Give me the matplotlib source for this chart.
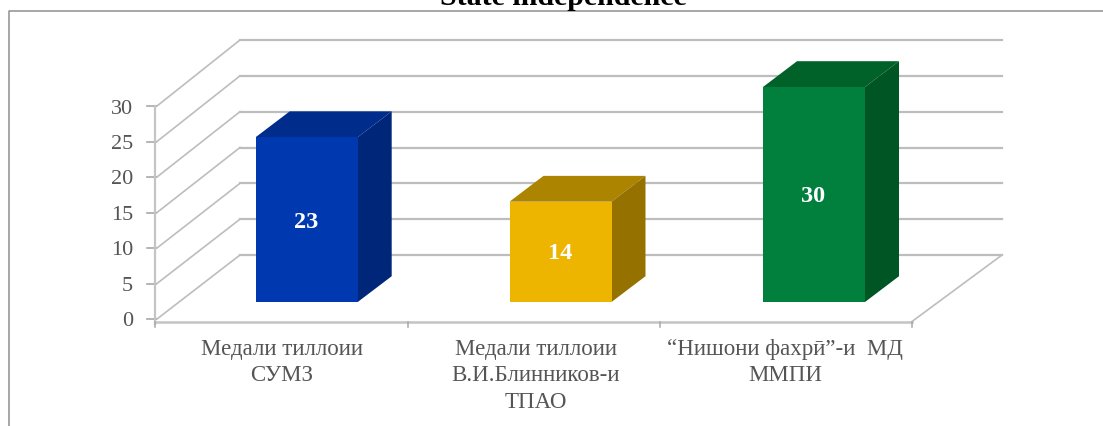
import matplotlib
matplotlib.use("Agg")
import matplotlib.pyplot as plt
from matplotlib.patches import Polygon, Rectangle

categories = ["Медали тиллоии\nСУМЗ", "Медали тиллоии\nВ.И.Блинников-и\nТПАО", "“Нишони фахрӣ”-и  МД\nММПИ"]
values = [23, 14, 30]
front_colors = ["#0038B0", "#EEB500", "#00803C"]
top_colors = ["#002C8C", "#AD8400", "#006228"]
side_colors = ["#00267A", "#957200", "#005524"]
y_ticks = [0, 5, 10, 15, 20, 25, 30]
title = "State independence"

W, H = 1103, 427
plt.rcParams["font.family"] = ["Liberation Serif", "DejaVu Serif"]
fig = plt.figure(figsize=(W / 100, H / 100), dpi=100, facecolor="white")
ax = fig.add_axes([0, 0, 1, 1])
ax.set_xlim(0, W)
ax.set_ylim(H, 0)
ax.axis("off")

# frame: top and left edges only are visible
ax.plot([8.5, 8.5, W], [H, 12, 12], color="#8f8f8f", lw=1.1, zorder=1)
ax.text(563, 5, title, ha="center", va="baseline", fontsize=21.5, fontweight="bold", color="black", clip_on=False)

# projection
x0, y0 = 157, 320
unit = (320 - 107) / 30
back_x = 240
back_y0 = 256
back_unit = (256 - 41) / 30
x_end = 1002
x_floor = 912
floor_y = 322.5
grid = "#bdbdbd"
for t in y_ticks:
    y = y0 - t * unit
    by = back_y0 - t * back_unit
    ax.plot([x0, back_x], [y, by], color=grid, lw=1.2, zorder=1)
    ax.plot([back_x, x_end], [by, by], color=grid, lw=1.6, zorder=1)
    ax.plot([147, 156], [y, y], color="#a8a8a8", lw=1.2, zorder=1)
    ax.text(133, y + 2, str(t), ha="right", va="center", fontsize=16, color="#555555")
ax.plot([154.5, 154.5], [y0 - 30 * unit, floor_y + 2], color="#c4c4c4", lw=1.6, zorder=1)
ax.plot([x0 - 2, x_floor], [floor_y, floor_y], color="#c4c4c4", lw=1.8, zorder=1)
ax.plot([x_floor, x_end], [floor_y, back_y0], color=grid, lw=1.2, zorder=1)
for xt in [154.5, 408, 660, x_floor]:
    ax.plot([xt, xt], [floor_y, floor_y + 5], color="#a8a8a8", lw=1.1, zorder=1)

# bars
bar_left = [255.7, 509.5, 763]
bar_w = 102
bdx, bdy = 34, -25.8
base = 303
unit_bar = 215 / 30
label_y_offset = [1.5, 0.5, 1]
for left, v, f, t, s, off in zip(bar_left, values, front_colors, top_colors, side_colors, label_y_offset):
    top = base - v * unit_bar
    ax.add_patch(Polygon([(left, top), (left + bar_w, top), (left + bar_w + bdx, top + bdy), (left + bdx, top + bdy)], fc=t, ec="none", zorder=3))
    ax.add_patch(Polygon([(left + bar_w, top), (left + bar_w + bdx, top + bdy), (left + bar_w + bdx, base + bdy), (left + bar_w, base)], fc=s, ec="none", zorder=3))
    ax.add_patch(Rectangle((left, top), bar_w, base - top, fc=f, ec="none", zorder=4))
    ax.text(left + bar_w / 2 - 0.8, (top + base) / 2 + off, str(v), ha="center", va="center", fontsize=17.5, fontweight="bold", color="white", zorder=5)

# category labels
for cx, lab in zip([282, 536, 785], categories):
    ax.text(cx, 339, lab, ha="center", va="top", fontsize=16.5, color="#555555", linespacing=1.33)

fig.savefig("out.png", dpi=100)
